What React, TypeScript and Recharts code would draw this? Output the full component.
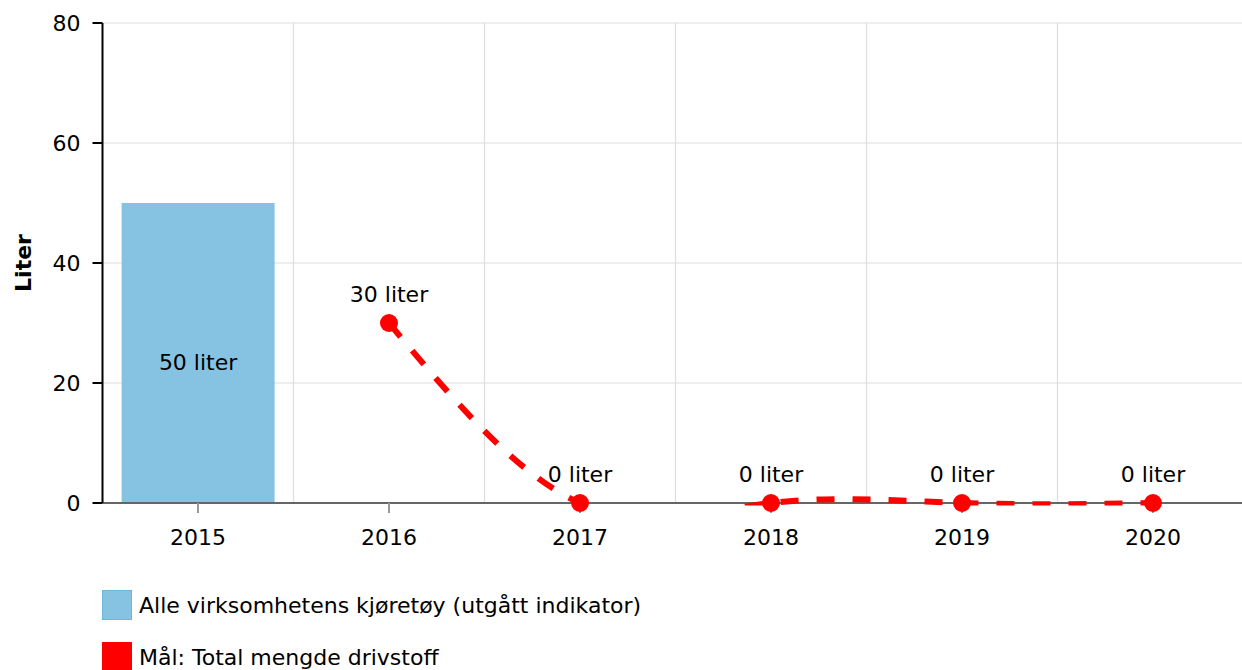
import React from 'react';
import {
  ComposedChart,
  Bar,
  Line,
  XAxis,
  YAxis,
  CartesianGrid,
  Legend,
  LabelList,
} from 'recharts';

const categories = ['2015', '2016', '2017', '2018', '2019', '2020'];
const barValues: (number | null)[] = [50, null, null, null, null, null];
const targetValues: (number | null)[] = [null, 30, 0, 0, 0, 0];
const yTicks = [0, 20, 40, 60, 80];
const barName = 'Alle virksomhetens kjøretøy (utgått indikator)';
const lineName = 'Mål: Total mengde drivstoff';
const unit = 'liter';

const data = categories.map((c, i) => ({
  year: c,
  bar: barValues[i],
  target: targetValues[i],
}));

const FONT = '"DejaVu Sans", Verdana, sans-serif';
const BLUE = '#86C3E3';
const RED = '#FF0000';

const BarLabel = (props: any) => {
  const { x, y, width, height, value } = props;
  if (value === null || value === undefined) return null;
  return (
    <text
      x={x + width / 2}
      y={y + height / 2 + 16.5}
      textAnchor="middle"
      fontSize={22}
      fontFamily={FONT}
      fill="#000"
    >
      {`${value} ${unit}`}
    </text>
  );
};

const LineLabel = (props: any) => {
  const { x, y, value } = props;
  if (value === null || value === undefined) return null;
  return (
    <text
      x={x}
      y={y - 21}
      textAnchor="middle"
      fontSize={22}
      fontFamily={FONT}
      fill="#000"
    >
      {`${value} ${unit}`}
    </text>
  );
};

const LegendContent = () => (
  <div style={{ fontFamily: FONT, fontSize: 22, color: '#000' }}>
    <div style={{ display: 'flex', alignItems: 'center', height: 30, marginBottom: 22 }}>
      <div
        style={{
          width: 28,
          height: 28,
          background: BLUE,
          border: '1px solid #6FB6DD',
          marginRight: 7,
        }}
      />
      <span>{barName}</span>
    </div>
    <div style={{ display: 'flex', alignItems: 'center', height: 30 }}>
      <div style={{ width: 30, height: 30, background: RED, marginRight: 7 }} />
      <span>{lineName}</span>
    </div>
  </div>
);

export default function App() {
  return (
    <div
      style={{
        position: 'absolute',
        left: 0,
        top: 0,
        width: 1242,
        height: 670,
        overflow: 'hidden',
        background: '#fff',
      }}
    >
      <ComposedChart
        width={1250}
        height={700}
        data={data}
        margin={{ top: 23, right: 1.5, bottom: 137, left: 0 }}
        barCategoryGap="10%"
      >
        <defs>
          <clipPath id="clipPath-tl">
            <rect x={102} y={0} width={1160} height={505.5} />
          </clipPath>
        </defs>
        <CartesianGrid
          stroke="#DDDDDD"
          strokeWidth={1.2}
          verticalCoordinatesGenerator={({ offset }: any) => {
            const bw = offset.width / categories.length;
            return categories.slice(1).map((_, i) => offset.left + bw * (i + 1));
          }}
          horizontalValues={[20, 40, 60, 80]}
        />
        <XAxis
          dataKey="year"
          height={60}
          axisLine={{ stroke: '#666666', strokeWidth: 2 }}
          tickLine={{ stroke: '#999999', strokeWidth: 2 }}
          tickSize={10}
          tick={{ fill: '#000', fontSize: 22, fontFamily: FONT, dy: 14 }}
        />
        <YAxis
          width={102.5}
          domain={[0, 80]}
          ticks={yTicks}
          allowDataOverflow
          axisLine={{ stroke: '#000', strokeWidth: 2 }}
          tickLine={{ stroke: '#000', strokeWidth: 2 }}
          tickSize={10}
          tick={{ fill: '#000', fontSize: 22, fontFamily: FONT, dx: -10 }}
          label={{
            value: 'Liter',
            angle: -90,
            position: 'insideLeft',
            dx: 18,
            style: {
              fontFamily: FONT,
              fontSize: 22,
              fontWeight: 'bold',
              fill: '#000',
              textAnchor: 'middle',
            },
          }}
        />
        <Legend
          layout="vertical"
          align="center"
          verticalAlign="middle"
          wrapperStyle={{ top: 590, left: 102, width: 800 }}
          content={<LegendContent />}
        />
        <Bar dataKey="bar" name={barName} fill={BLUE} isAnimationActive={false}>
          <LabelList dataKey="bar" content={<BarLabel />} />
        </Bar>
        <Line
          id="tl"
          {...({ zIndex: 600 } as any)}
          type="natural"
          dataKey="target"
          name={lineName}
          stroke={RED}
          strokeWidth={6}
          strokeDasharray="18 18"
          dot={{ r: 9, fill: RED, stroke: 'none', clipDot: false } as any}
          activeDot={false}
          isAnimationActive={false}
        >
          <LabelList dataKey="target" content={<LineLabel />} />
        </Line>
      </ComposedChart>
    </div>
  );
}
